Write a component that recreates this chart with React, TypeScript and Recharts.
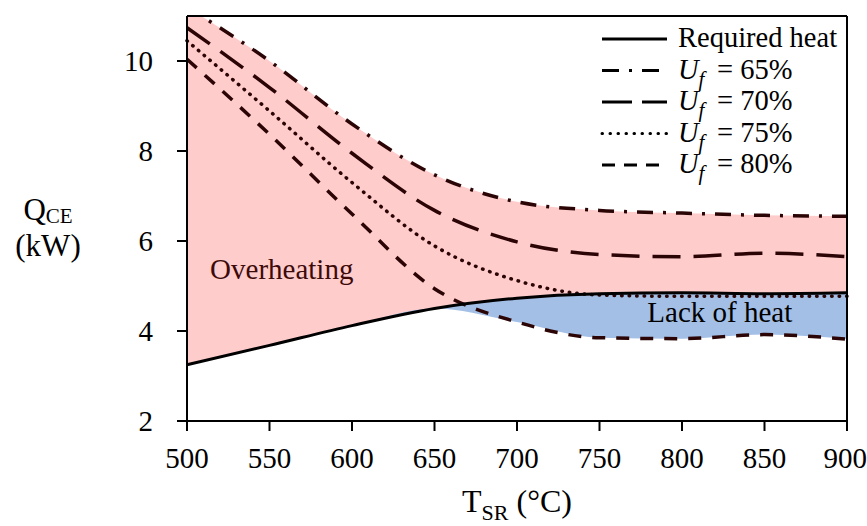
import React from 'react';
import { ComposedChart, Area, Line, XAxis, YAxis, ReferenceLine, ReferenceDot, Legend } from 'recharts';

// T_SR (°C) sample points and Q_CE (kW)
const temps = [500, 550, 600, 650, 700, 750, 800, 850, 900];
const requiredHeat = [3.25, 3.68, 4.12, 4.5, 4.73, 4.83, 4.85, 4.83, 4.85];
const uf65 = [11.2, 10.0, 8.6, 7.47, 6.87, 6.68, 6.62, 6.57, 6.55];
const uf70 = [10.74, 9.41, 7.95, 6.68, 5.98, 5.7, 5.65, 5.73, 5.65];
const uf75 = [10.45, 8.89, 7.3, 5.89, 5.12, 4.8, 4.77, 4.77, 4.77];
const uf80 = [10.04, 8.37, 6.6, 4.94, 4.2, 3.85, 3.83, 3.92, 3.82];

const xTicks = [500, 550, 600, 650, 700, 750, 800, 850, 900];
const yTicks = [2, 4, 6, 8, 10];

const data = temps.map((t, i) => ({
  t,
  req: requiredHeat[i],
  u65: uf65[i],
  u70: uf70[i],
  u75: uf75[i],
  u80: uf80[i],
  over: [requiredHeat[i], uf65[i]],
  lack: [Math.min(uf80[i], requiredHeat[i]), requiredHeat[i]],
}));

const FONT = "'Liberation Serif', 'DejaVu Serif', serif";
const LINE = '#2b0505';

const legendRows = [
  { label: null, dash: undefined, cap: 'butt' },
  { label: '65%', dash: '17 10 3 10', cap: 'butt' },
  { label: '70%', dash: '30 10', cap: 'butt' },
  { label: '75%', dash: '0.5 7.5', cap: 'round' },
  { label: '80%', dash: '13 9', cap: 'butt' },
];

const renderLegend = () => (
  <svg width={266} height={175}>
    {legendRows.map((r, i) => {
      const base = 27 + i * 31.5;
      return (
        <g key={i}>
          <line x1={2} x2={67} y1={base - 8} y2={base - 8} stroke="#000" strokeWidth={3}
            strokeDasharray={r.dash} strokeLinecap={r.cap as any} />
          {r.label === null ? (
            <text x={78} y={base} fontSize={28.5} fill="#000" style={{ fontFamily: FONT }}>Required heat</text>
          ) : (
            <text x={78} y={base} fontSize={28.5} fill="#000" style={{ fontFamily: FONT }}>
              <tspan fontStyle="italic">U</tspan>
              <tspan fontStyle="italic" fontSize={21} dy={7}>f</tspan>
              <tspan dy={-7} x={117}>= {r.label}</tspan>
            </text>
          )}
        </g>
      );
    })}
  </svg>
);

const yTitle = (p: any) => {
  const vb = p.viewBox;
  const cx = vb.x + 48;
  const cy = vb.y + vb.height / 2;
  return (
    <g>
      <text x={cx} y={cy + 1} fontSize={31} textAnchor="middle" fill="#000" style={{ fontFamily: FONT }}>
        Q<tspan fontSize={21} dy={3}>CE</tspan>
      </text>
      <text x={cx} y={cy + 37} fontSize={31} textAnchor="middle" fill="#000" style={{ fontFamily: FONT }}>(kW)</text>
    </g>
  );
};

const xTitle = (p: any) => {
  const vb = p.viewBox;
  return (
    <text x={vb.x + vb.width / 2} y={vb.y + 91} fontSize={32} textAnchor="middle" fill="#000"
      style={{ fontFamily: FONT }}>
      T<tspan fontSize={22} dy={8}>SR</tspan><tspan dy={-8}> (°C)</tspan>
    </text>
  );
};

const note = (text: string, color: string) => (p: any) => (
  <text x={p.viewBox.x} y={p.viewBox.y} fontSize={29} fill={color} style={{ fontFamily: FONT }}>
    {text}
  </text>
);

const tickStyle = { fontSize: 29, fill: '#000', style: { fontFamily: FONT } };

export default function App() {
  return (
    <div style={{ position: 'absolute', left: 0, top: 0, background: '#fff', fontFamily: FONT }}>
      <ComposedChart width={867} height={526} data={data} margin={{ top: 16, right: 20, bottom: 0, left: 0 }}
        style={{ fontFamily: FONT }}>
        <XAxis dataKey="t" type="number" domain={[500, 900]} ticks={xTicks} height={105}
          tickSize={10} tickMargin={16} tick={tickStyle}
          axisLine={{ stroke: '#000', strokeWidth: 2 }} tickLine={{ stroke: '#000', strokeWidth: 2 }}
          label={{ content: xTitle }} />
        <YAxis type="number" domain={[2, 11]} ticks={yTicks} width={187} allowDataOverflow
          tickSize={10} tickMargin={24} tick={tickStyle}
          axisLine={{ stroke: '#000', strokeWidth: 2 }} tickLine={{ stroke: '#000', strokeWidth: 2 }}
          label={{ content: yTitle }} />

        <Area dataKey="over" type="monotone" fill="#ffcccc" fillOpacity={1} stroke="none" isAnimationActive={false} />
        <Area dataKey="lack" type="monotone" fill="#a3bfe6" fillOpacity={1} stroke="none" isAnimationActive={false} />

        <Line dataKey="u65" type="monotone" stroke={LINE} strokeWidth={3.5} strokeDasharray="16 10 3 10" dot={false} isAnimationActive={false} />
        <Line dataKey="u70" type="monotone" stroke={LINE} strokeWidth={3.5} strokeDasharray="28 13" dot={false} isAnimationActive={false} />
        <Line dataKey="u75" type="monotone" stroke={LINE} strokeWidth={3.5} strokeDasharray="0.5 7" strokeLinecap="round" dot={false} isAnimationActive={false} />
        <Line dataKey="u80" type="monotone" stroke={LINE} strokeWidth={3.5} strokeDasharray="13 11" dot={false} isAnimationActive={false} />
        <Line dataKey="req" type="monotone" stroke="#000" strokeWidth={3} dot={false} isAnimationActive={false} />

        <ReferenceLine y={11} stroke="#000" strokeWidth={2} />
        <ReferenceLine x={900} stroke="#000" strokeWidth={2} />

        <ReferenceDot x={514} y={5.15} r={0} fill="none" stroke="none" label={{ content: note('Overheating', '#3d0a0a') }} />
        <ReferenceDot x={779} y={4.2} r={0} fill="none" stroke="none" label={{ content: note('Lack of heat', '#000') }} />

        <Legend layout="vertical" align="center" verticalAlign="middle" content={renderLegend}
          wrapperStyle={{ position: 'absolute', left: 600, top: 20, width: 266, height: 175 }} />
      </ComposedChart>
    </div>
  );
}
